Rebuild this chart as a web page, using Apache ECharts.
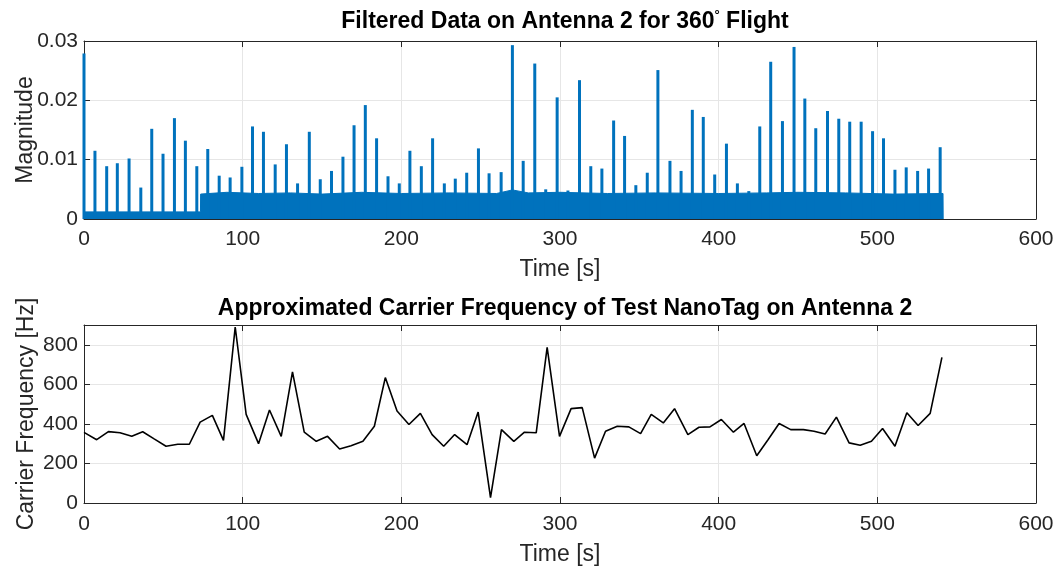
<!DOCTYPE html>
<html>
<head>
<meta charset="utf-8">
<script src="https://cdn.jsdelivr.net/npm/echarts@6/dist/echarts.min.js"></script>
<style>
html,body{margin:0;padding:0;background:#fff;}
#chart{width:1059px;height:570px;}
</style>
</head>
<body>
<div id="chart"></div>
<script>
// ---- Top panel: spike peaks (time [s], magnitude)
const spikeTime = [0, 6.9, 14.3, 21, 28.4, 35.8, 42.7, 49.8, 57, 63.9, 71.1, 78, 85.2, 92.1, 99.5, 106.2, 113.1, 120.5, 127.6, 134.6, 142, 148.9, 156, 163.2, 170.2, 177.3, 184.4, 191.6, 198.7, 205.4, 212.6, 219.7, 227.1, 234, 241.2, 248.6, 255.3, 262.9, 270, 276.8, 284.1, 291, 298.2, 305, 312.3, 319.4, 326.4, 333.8, 340.7, 347.8, 355, 361.7, 369.3, 376.3, 383.4, 390.3, 397.5, 404.9, 411.8, 419, 425.9, 432.8, 440.2, 447.5, 454.3, 461.2, 468.6, 475.7, 482.6, 489.8, 497, 503.9, 511.1, 518.2, 525.4, 532.3, 539.6];
const spikeMag = [0.0279, 0.0115, 0.0089, 0.0094, 0.0102, 0.0053, 0.0152, 0.011, 0.017, 0.0132, 0.0089, 0.0118, 0.0073, 0.007, 0.0088, 0.0156, 0.0147, 0.0092, 0.0126, 0.006, 0.0147, 0.0067, 0.0081, 0.0105, 0.0158, 0.0192, 0.0136, 0.0072, 0.006, 0.0115, 0.0089, 0.0136, 0.006, 0.0068, 0.0078, 0.0119, 0.0077, 0.0079, 0.0293, 0.0098, 0.0262, 0.005, 0.0205, 0.0048, 0.0234, 0.0089, 0.0085, 0.0166, 0.014, 0.0057, 0.0078, 0.0251, 0.0098, 0.0081, 0.0184, 0.0172, 0.0075, 0.0127, 0.006, 0.0047, 0.0156, 0.0265, 0.0165, 0.029, 0.0203, 0.0153, 0.0182, 0.0169, 0.0164, 0.0164, 0.0148, 0.0136, 0.0083, 0.0087, 0.0081, 0.0085, 0.0121];
// noise floor envelope (time [s], magnitude)
const noiseTime = [0, 73.4, 73.5, 90, 110, 130, 150, 175, 200, 230, 260, 270, 280, 300, 330, 360, 400, 430, 450, 480, 510, 541.4, 541.5];
const noiseLevel = [0.0012, 0.0012, 0.0042, 0.0045, 0.0043, 0.0044, 0.0042, 0.0045, 0.0043, 0.0044, 0.0043, 0.0049, 0.0044, 0.0045, 0.0043, 0.0044, 0.0043, 0.0044, 0.0045, 0.0044, 0.0042, 0.0043, 0];
// ---- Bottom panel: carrier frequency (time [s], Hz)
const freqTime = [0, 8, 15.4, 22.7, 30.1, 37, 44.2, 51.7, 59.1, 66.4, 73.2, 80.9, 87.9, 95.3, 102.2, 110, 116.9, 124.3, 131.4, 138.8, 146.4, 153.5, 161.1, 168.3, 175.8, 183, 189.9, 197.3, 204.8, 212, 219.4, 226.7, 233.6, 241.4, 248.4, 256.2, 263.1, 270.9, 277.6, 285, 291.9, 299.7, 307, 314, 321.8, 328.7, 336.1, 343.4, 350.8, 357.5, 365.1, 372.2, 380.6, 387.6, 394.5, 401.7, 409.3, 416, 424, 431.1, 438.1, 445.4, 453.4, 460.1, 467.1, 474.2, 482.2, 489.2, 496.3, 503.3, 511.1, 518.6, 525.7, 533.3, 540.7];
const freqVal = [357, 320, 361, 355, 337, 360, 324, 287, 297, 297, 409, 443, 317, 890, 448, 300, 470, 337, 663, 358, 312, 337, 273, 290, 312, 388, 634, 465, 397, 453, 346, 287, 346, 295, 460, 27, 371, 312, 358, 355, 787, 337, 477, 482, 227, 363, 388, 385, 351, 448, 405, 477, 346, 383, 385, 422, 358, 402, 239, 320, 402, 371, 371, 363, 349, 434, 304, 292, 312, 377, 287, 456, 392, 453, 736];
// tick settings
const timeTicks = {min: 0, max: 600, interval: 100};
const magTicks = {min: 0, max: 0.03, interval: 0.01};
const freqTicks = {min: 0, max: 900, interval: 200};

const FONT = 'Liberation Sans, Arial, Helvetica, sans-serif';
const AX = '#262626';
const GRID = '#e6e6e6';
const BLUE = '#0072BD';
const TICK = 21, LAB = 23, TTL = 23;

function xAxes(gridIndex, nameGap, labelMargin) {
  return [
    {type: 'value', gridIndex, position: 'bottom', ...timeTicks,
     name: 'Time [s]', nameLocation: 'middle', nameGap, nameMoveOverlap: false,
     nameTextStyle: {fontFamily: FONT, fontSize: LAB, color: AX},
     axisLine: {onZero: false, lineStyle: {color: AX, width: 1}},
     axisTick: {inside: true, length: 6, lineStyle: {color: AX}},
     axisLabel: {fontFamily: FONT, fontSize: TICK, color: AX, margin: labelMargin},
     splitLine: {show: true, lineStyle: {color: GRID, width: 1}}},
    {type: 'value', gridIndex, position: 'top', ...timeTicks,
     axisLine: {onZero: false, lineStyle: {color: AX, width: 1}},
     axisTick: {inside: true, length: 6, lineStyle: {color: AX}},
     axisLabel: {show: false}, splitLine: {show: false}}
  ];
}
function yAxes(gridIndex, ticks, name, fmt, nameGap) {
  const onTick = Math.abs(ticks.max / ticks.interval - Math.round(ticks.max / ticks.interval)) < 1e-9;
  return [
    {type: 'value', gridIndex, position: 'left', ...ticks,
     name, nameLocation: 'middle', nameGap, nameMoveOverlap: false,
     nameTextStyle: {fontFamily: FONT, fontSize: LAB, color: AX},
     axisLine: {show: true, onZero: false, lineStyle: {color: AX, width: 1}},
     axisTick: {show: true, inside: true, length: 6, lineStyle: {color: AX}},
     axisLabel: {fontFamily: FONT, fontSize: TICK, color: AX, margin: 6, formatter: fmt, showMaxLabel: onTick},
     splitLine: {show: true, lineStyle: {color: GRID, width: 1}}},
    {type: 'value', gridIndex, position: 'right', ...ticks,
     axisLine: {show: true, onZero: false, lineStyle: {color: AX, width: 1}},
     axisTick: {show: true, inside: true, length: 6, lineStyle: {color: AX}},
     axisLabel: {show: false}, splitLine: {show: false}}
  ];
}

const chart = echarts.init(document.getElementById('chart'), null, {renderer: 'canvas'});
chart.setOption({
  animation: false,
  backgroundColor: '#ffffff',
  title: [
    {text: 'Filtered Data on Antenna 2 for 360{sup|°} Flight', left: 560, top: 4, textAlign: 'center',
     textStyle: {fontFamily: FONT, fontSize: TTL, fontWeight: 'bold', color: '#000',
       rich: {sup: {fontFamily: FONT, fontSize: 13, fontWeight: 'bold', color: '#000', verticalAlign: 'top', padding: [0, 0, 12, 0]}}}},
    {text: 'Approximated Carrier Frequency of Test NanoTag on Antenna 2', left: 560, top: 292, textAlign: 'center',
     textStyle: {fontFamily: FONT, fontSize: TTL, fontWeight: 'bold', color: '#000'}}
  ],
  grid: [
    {left: 84, right: 23, top: 41, height: 178},
    {left: 84, right: 23, top: 325, height: 178}
  ],
  xAxis: [...xAxes(0, 39, 10), ...xAxes(1, 40, 11)],
  yAxis: [
    ...yAxes(0, magTicks, 'Magnitude', v => (v === 0 ? '0' : v.toFixed(2)), 47),
    ...yAxes(1, freqTicks, 'Carrier Frequency [Hz]', v => String(v), 46)
  ],
  series: [
    {type: 'line', xAxisIndex: 0, yAxisIndex: 0, z: 2,
     data: noiseTime.map((t, i) => [t, noiseLevel[i]]),
     showSymbol: false, symbol: 'none',
     lineStyle: {color: BLUE, width: 1}, areaStyle: {color: BLUE, opacity: 1}},
    {type: 'bar', xAxisIndex: 0, yAxisIndex: 0, z: 3, barWidth: 3,
     data: spikeTime.map((t, i) => [t, spikeMag[i]]),
     itemStyle: {color: BLUE}},
    {type: 'line', xAxisIndex: 2, yAxisIndex: 2,
     data: freqTime.map((t, i) => [t, freqVal[i]]),
     showSymbol: false, symbol: 'none',
     lineStyle: {color: '#000', width: 1.6}}
  ]
});
</script>
</body>
</html>
